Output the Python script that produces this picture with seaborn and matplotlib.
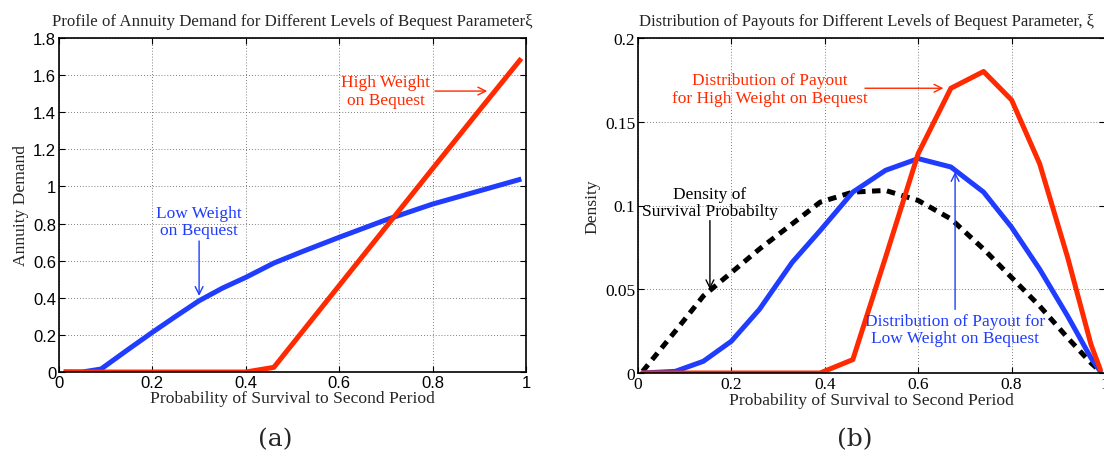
import matplotlib
matplotlib.use("Agg")
import matplotlib.pyplot as plt
import seaborn as sns
import numpy as np
import pandas as pd

# ---------------- data ----------------
# Panel (a): annuity demand vs survival probability
x_a = [0.01, 0.05, 0.09, 0.15, 0.20, 0.25, 0.30, 0.35, 0.40, 0.46, 0.52, 0.60, 0.70, 0.80, 0.90, 0.99]
low_weight_a = [0.0, 0.0, 0.016, 0.125, 0.214, 0.30, 0.384, 0.452, 0.51, 0.587, 0.648, 0.726, 0.82, 0.905, 0.976, 1.04]
high_weight_a = [0.0, 0.0, 0.0, 0.0, 0.0, 0.0, 0.0, 0.0, 0.0, 0.025, 0.214, 0.466, 0.781, 1.096, 1.41, 1.69]

# Panel (b): densities
x_b = [0.01, 0.08, 0.14, 0.20, 0.26, 0.33, 0.39, 0.46, 0.53, 0.60, 0.67, 0.74, 0.80, 0.86, 0.92, 0.97, 0.99]
survival_density = [0.001, 0.025, 0.046, 0.060, 0.074, 0.089, 0.102, 0.108, 0.109, 0.103, 0.092, 0.074, 0.057, 0.040, 0.021, 0.006, 0.001]
payout_low = [0.0, 0.001, 0.007, 0.019, 0.038, 0.066, 0.085, 0.108, 0.121, 0.128, 0.123, 0.108, 0.087, 0.062, 0.034, 0.009, 0.001]
payout_high = [0.0, 0.0, 0.0, 0.0, 0.0, 0.0, 0.0, 0.008, 0.069, 0.131, 0.170, 0.180, 0.163, 0.125, 0.069, 0.017, 0.002]

x_ticks = [0, 0.2, 0.4, 0.6, 0.8, 1]
x_tick_labels = ["0", "0.2", "0.4", "0.6", "0.8", "1"]
y_ticks_a = [0, 0.2, 0.4, 0.6, 0.8, 1.0, 1.2, 1.4, 1.6, 1.8]
y_tick_labels_a = ["0", "0.2", "0.4", "0.6", "0.8", "1", "1.2", "1.4", "1.6", "1.8"]
y_ticks_b = [0, 0.05, 0.1, 0.15, 0.2]
y_tick_labels_b = ["0", "0.05", "0.1", "0.15", "0.2"]

title_a = "Profile of Annuity Demand for Different Levels of Bequest Parameter\u03be"
title_b = "Distribution of Payouts for Different Levels of Bequest Parameter, \u03be"
xlabel = "Probability of Survival to Second Period"

# ---------------- style ----------------
sns.set_theme(style="white")
plt.rcParams['font.family'] = ['Liberation Serif', 'DejaVu Serif']

RED = "#ff2a00"
BLUE = "#1f3cff"
SERIF = ['Liberation Serif', 'DejaVu Serif']
SANS = ['Liberation Sans', 'DejaVu Sans']

fig = plt.figure(figsize=(11.04, 4.60), dpi=100)
W, H = 1104.0, 460.0
axA = fig.add_axes([59 / W, (H - 373) / H, 467 / W, 334 / H])
axB = fig.add_axes([638 / W, (H - 374) / H, 467 / W, 335 / H])

dfA = pd.DataFrame({"x": x_a, "low": low_weight_a, "high": high_weight_a})
sns.lineplot(data=dfA, x="x", y="low", ax=axA, color=BLUE, lw=3.6, solid_capstyle="butt")
sns.lineplot(data=dfA, x="x", y="high", ax=axA, color=RED, lw=3.6, solid_capstyle="butt")

dfB = pd.DataFrame({"x": x_b, "dens": survival_density, "low": payout_low, "high": payout_high})
sns.lineplot(data=dfB, x="x", y="dens", ax=axB, color="black", lw=3.6, linestyle=(0, (1.7, 1.3)))
sns.lineplot(data=dfB, x="x", y="low", ax=axB, color=BLUE, lw=3.6)
sns.lineplot(data=dfB, x="x", y="high", ax=axB, color=RED, lw=3.6)

LABEL_FS = 12.6


def style_axes(ax, yticks, ylabels, ylim, tickfam, tickfs):
    ax.set_xlim(0, 1)
    ax.set_ylim(*ylim)
    ax.set_xticks(x_ticks)
    ax.set_xticklabels(x_tick_labels, family=tickfam, fontsize=tickfs)
    ax.set_yticks(yticks)
    ax.set_yticklabels(ylabels, family=tickfam, fontsize=tickfs)
    ax.tick_params(direction="in", length=4, width=0.8, top=True, right=True,
                   bottom=True, left=True, pad=2, colors="black")
    ax.grid(True, linestyle=(0, (1, 2.5)), color="#555555", lw=0.6)
    for s in ax.spines.values():
        s.set_visible(True)
        s.set_color("black")
        s.set_linewidth(1.2)
    ax.set_xlabel(xlabel, family=SERIF, fontsize=LABEL_FS, labelpad=0)


style_axes(axA, y_ticks_a, y_tick_labels_a, (0, 1.8), SANS, 12)
style_axes(axB, y_ticks_b, y_tick_labels_b, (0, 0.2), SERIF, 12.5)
axA.set_ylabel("Annuity Demand", family=SERIF, fontsize=LABEL_FS, labelpad=3)
axB.set_ylabel("Density", family=SERIF, fontsize=LABEL_FS, labelpad=3)
axA.set_title(title_a, family=SERIF, fontsize=12.2, pad=9)
axB.set_title(title_b, family=SERIF, fontsize=12.0, pad=9, x=0.49)

ann_fs = 12.5


def arrow(ax, start, end, color):
    ax.annotate("", xy=end, xytext=start,
                arrowprops=dict(arrowstyle="->", color=color, lw=1.0,
                                shrinkA=0, shrinkB=0, mutation_scale=14))


def label(ax, x, y, s, color):
    ax.text(x, y, s, color=color, fontsize=ann_fs, ha="center", va="center",
            family=SERIF, linespacing=1.1)


# annotations panel (a)
label(axA, 0.70, 1.514, "High Weight\non Bequest", RED)
arrow(axA, (0.805, 1.514), (0.917, 1.514), RED)
label(axA, 0.30, 0.81, "Low Weight\non Bequest", BLUE)
arrow(axA, (0.30, 0.706), (0.30, 0.41), BLUE)

# annotations panel (b)
label(axB, 0.283, 0.1696, "Distribution of Payout\nfor High Weight on Bequest", RED)
arrow(axB, (0.486, 0.170), (0.654, 0.170), RED)
label(axB, 0.154, 0.102, "Density of\nSurvival Probabilty", "black")
arrow(axB, (0.154, 0.091), (0.154, 0.050), "black")
label(axB, 0.679, 0.026, "Distribution of Payout for\nLow Weight on Bequest", BLUE)
arrow(axB, (0.679, 0.038), (0.679, 0.120), BLUE)

fig.text(275 / W, 1 - 440 / H, "(a)", ha="center", va="center", fontsize=18, family=['DejaVu Serif'])
fig.text(855 / W, 1 - 440 / H, "(b)", ha="center", va="center", fontsize=18, family=['DejaVu Serif'])

fig.savefig("out.png", dpi=100)
